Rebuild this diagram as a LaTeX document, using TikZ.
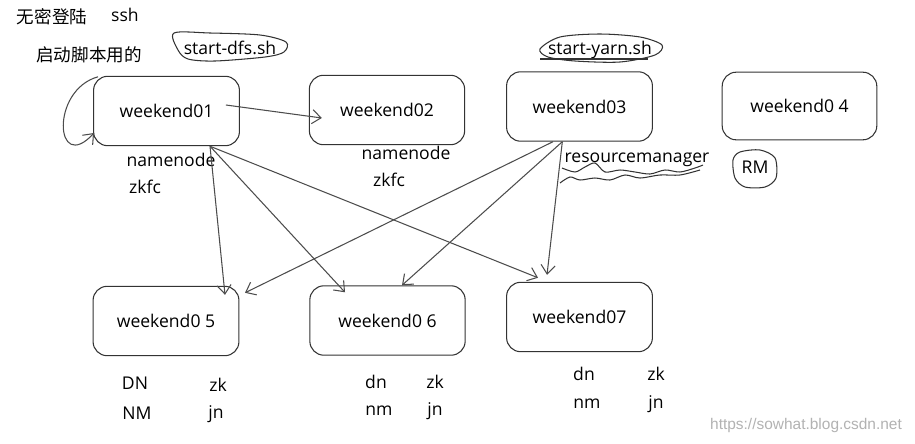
\documentclass[tikz,border=0pt]{standalone}
\usepackage{fontspec}
\setmainfont{Open Sans}
\newfontfamily\cjk{Noto Sans CJK SC}
\newfontfamily\wmfont{Liberation Sans}
\usetikzlibrary{calc,arrows.meta}

\tikzset{
  host/.style={draw=black!80, line width=0.6pt, rounded corners=8pt,
    minimum width=83pt, minimum height=39.5pt, inner sep=0pt,
    font=\fontsize{10}{12}\selectfont},
  txt/.style={inner sep=0pt, font=\fontsize{10}{12}\selectfont},
  link/.style={draw=black!70, line width=0.6pt,
    -{Straight Barb[length=5pt,width=8pt]}},
  scribble/.style={draw=black!80, line width=0.6pt},
}

\begin{document}
\begin{tikzpicture}[x=0.02cm, y=-0.02cm]
    \useasboundingbox (0,0) rectangle (915,443);

    % hosts
    \node[host] (w01) at (166.5,111) {weekend01};
    \node[host, minimum width=88.4pt] (w02) at (387,110) {weekend02};
    \node[host] (w03) at (579.5,106.5) {weekend03};
    \node[host, minimum width=88pt, minimum height=38.5pt] (w04) at (799.5,106) {weekend0 4};
    \node[host] (w05) at (166,321) {weekend0 5};
    \node[host, minimum width=88.4pt] (w06) at (387.5,320.5) {weekend0 6};
    \node[host] (w07) at (579.5,317) {weekend07};

    % notes at the top
    \node[txt] (nossh) at (52,17) {\cjk 无密登陆};
    \node[txt] (ssh) at (125,15) {ssh};
    \node[txt] (script) at (89,55) {\cjk 启动脚本用的};
    \node[txt] (dfs) at (230,48) {start-dfs.sh};
    \node[txt] (yarn) at (600,50) {start-yarn.sh};

    % roles
    \node[txt] (nn1) at (171,160) {namenode};
    \node[txt] (zk1) at (145,187) {zkfc};
    \node[txt] (nn2) at (406,153) {namenode};
    \node[txt] (zk2) at (389,180) {zkfc};
    \node[txt] (rm3) at (637,160) {resourcemanager};
    \node[txt] (rm4) at (755,167) {RM};

    \node[txt] (dn5) at (135,383) {DN};
    \node[txt] (zk5) at (218,385) {zk};
    \node[txt] (nm5) at (137,413) {NM};
    \node[txt] (jn5) at (216,414) {jn};
    \node[txt] (dn6) at (376,382) {dn};
    \node[txt] (zk6) at (435,382) {zk};
    \node[txt] (nm6) at (379,411) {nm};
    \node[txt] (jn6) at (435,411) {jn};
    \node[txt] (dn7) at (584,374) {dn};
    \node[txt] (zk7) at (656,374) {zk};
    \node[txt] (nm7) at (587,404) {nm};
    \node[txt] (jn7) at (656,404) {jn};

    % scribbles round the scripts
    \draw[scribble] plot[smooth cycle] coordinates {(174,33) (210,33) (260,35) (286,42) (284,52) (265,57) (215,61) (188,59) (178,50)};
    \draw[scribble] plot[smooth cycle] coordinates {(540,49) (560,37) (600,34) (640,37) (662,45) (655,55) (620,62) (575,61) (548,57)};
    \draw[scribble] (540,59) -- (648,59);
    \draw[scribble] plot[smooth cycle] coordinates {(740,152) (760,150) (775,158) (776,178) (765,187) (745,187) (735,178) (733,160)};
    \draw[scribble] plot[smooth] coordinates {(562,168) (575,172) (585,167) (595,163) (605,172) (620,170) (635,172) (650,174) (665,170) (680,172) (695,168) (703,165)};
    \draw[scribble] plot[smooth] coordinates {(560,183) (570,177) (580,180) (595,178) (610,180) (625,175) (640,178) (660,175) (680,175) (700,170)};

    % ssh arrows
    \draw[link] ($(w01.east)+(-14,-6)$) -- ($(w02.west)+(13,8)$);
    \draw[link] ($(w01.north west)+(5,1)$) .. controls (50,90) and (55,175) .. ($(w01.west)+(1,22)$);
    \draw[link] (w01.-39) -- ($(w05.north)+(59,9)$);
    \draw[link] (w01.-39) -- ($(w06.north)+(-42.5,7)$);
    \draw[link] (w01.-39) -- ($(w07.north)+(-41.5,-4)$);
    \draw[link] (w03.-127) -- ($(w05.north)+(79,7)$);
    \draw[link] (w03.-116) -- ($(w06.north)+(14.5,0)$);
    \draw[link] (w03.-116) -- ($(w07.north)+(-32.5,-7)$);

    % watermark
    \node[inner sep=0pt, text=black!30, font=\wmfont\fontsize{8.8}{10}\selectfont] (mark) at (806,425) {https://sowhat.blog.csdn.net};
\end{tikzpicture}
\end{document}
